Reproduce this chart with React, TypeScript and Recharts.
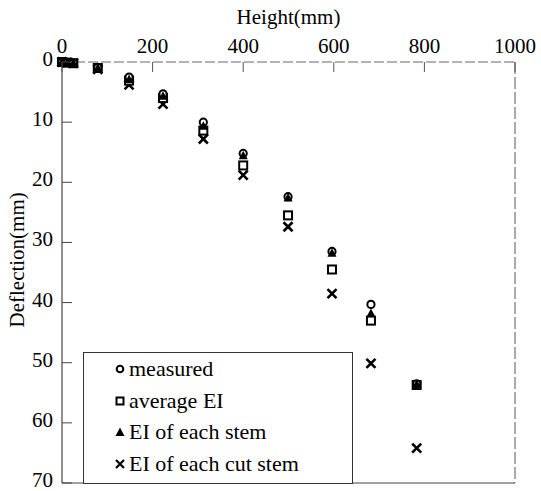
import React from 'react';
import { ScatterChart, Scatter, XAxis, YAxis, ReferenceLine } from 'recharts';

// heights along the stem (mm)
const heights = [0, 12, 25, 79, 148, 223, 312, 400, 499, 596, 682, 783];
// deflection (mm) per series
const measured = [0, 0.1, 0.2, 0.9, 2.5, 5.3, 10.0, 15.2, 22.4, 31.5, 40.3, 53.5];
const averageEI = [0, 0.1, 0.2, 1.0, 3.1, 6.0, 11.4, 17.2, 25.5, 34.5, 43.0, 53.7];
const eachStem = [0, 0.1, 0.2, 1.0, 2.9, 5.7, 10.7, 15.6, 22.6, 31.8, 41.8, 53.6];
const eachCutStem = [0, 0.1, 0.2, 1.2, 3.8, 7.0, 12.8, 18.8, 27.4, 38.5, 50.1, 64.2];

const xTicks = [0, 200, 400, 600, 800, 1000];
const yTicks = [0, 10, 20, 30, 40, 50, 60, 70];

const toPoints = (vals: number[]) => heights.map((h, i) => ({ h, d: vals[i] }));

const FONT = "'Liberation Serif', 'DejaVu Serif', serif";

const CircleShape = (props: any) => (
  <circle cx={props.cx} cy={props.cy} r={3.6} fill="#fff" stroke="#000" strokeWidth={2} />
);
const SquareShape = (props: any) => (
  <rect x={props.cx - 4} y={props.cy - 4} width={8} height={8} fill="#fff" stroke="#000" strokeWidth={2} />
);
const TriangleShape = (props: any) => {
  const { cx, cy } = props;
  return <polygon points={`${cx},${cy - 5} ${cx + 4.5},${cy + 3.5} ${cx - 4.5},${cy + 3.5}`} fill="#000" />;
};
const CrossShape = (props: any) => {
  const { cx, cy } = props;
  const s = 4.5;
  return (
    <g stroke="#000" strokeWidth={2.6}>
      <line x1={cx - s} y1={cy - s} x2={cx + s} y2={cy + s} />
      <line x1={cx - s} y1={cy + s} x2={cx + s} y2={cy - s} />
    </g>
  );
};

const XTick = (props: any) => {
  const { x, y, payload } = props;
  return (
    <g>
      <line x1={x} y1={y} x2={x} y2={y + 10} stroke="#555" strokeWidth={1} />
      <text x={x} y={y - 9} textAnchor="middle" style={{ fontFamily: FONT, fontSize: 21 }} fill="#000">
        {payload.value}
      </text>
    </g>
  );
};

const YTick = (props: any) => {
  const { x, y, payload } = props;
  return (
    <g>
      <line x1={x} y1={y} x2={x + 10} y2={y} stroke="#444" strokeWidth={1} />
      <text x={x - 9} y={y + 4} textAnchor="end" style={{ fontFamily: FONT, fontSize: 21 }} fill="#000">
        {payload.value}
      </text>
    </g>
  );
};

const legendRows = [
  { label: 'measured', shape: 'circle' },
  { label: 'average EI', shape: 'square' },
  { label: 'EI of each stem', shape: 'triangle' },
  { label: 'EI of each cut stem', shape: 'cross' },
];

const LegendIcon = ({ shape }: { shape: string }) => (
  <svg width={12} height={12} style={{ display: 'block' }}>
    {shape === 'circle' && <circle cx={6} cy={6} r={3.3} fill="#fff" stroke="#000" strokeWidth={2} />}
    {shape === 'square' && <rect x={2.5} y={2.5} width={7} height={7} fill="#fff" stroke="#000" strokeWidth={2} />}
    {shape === 'triangle' && <polygon points="6,1.5 10.5,10 1.5,10" fill="#000" />}
    {shape === 'cross' && (
      <g stroke="#000" strokeWidth={2.2}>
        <line x1={2} y1={2} x2={10} y2={10} />
        <line x1={2} y1={10} x2={10} y2={2} />
      </g>
    )}
  </svg>
);

export default function App() {
  return (
    <div style={{ position: 'absolute', left: 0, top: 0, width: 541, height: 491, background: '#fff', fontFamily: FONT }}>
      <ScatterChart width={541} height={491} margin={{ top: 0, right: 26, bottom: 8, left: 0 }} style={{ fontFamily: FONT }}>
        <XAxis
          type="number"
          dataKey="h"
          orientation="top"
          domain={[0, 1000]}
          ticks={xTicks}
          height={62}
          tickSize={0}
          tickMargin={0}
          tickLine={false}
          axisLine={{ stroke: '#666', strokeDasharray: '10 3' }}
          tick={<XTick />}
          interval={0}
          label={{
            value: 'Height(mm)',
            position: 'insideTop',
            offset: 9,
            style: { fontFamily: FONT, fontSize: 21 },
            fill: '#000',
          }}
        />
        <YAxis
          type="number"
          dataKey="d"
          domain={[0, 70]}
          reversed
          ticks={yTicks}
          width={62}
          tickSize={0}
          tickMargin={0}
          tickLine={false}
          axisLine={{ stroke: '#222' }}
          tick={<YTick />}
          interval={0}
          label={{
            value: 'Deflection(mm)',
            angle: -90,
            position: 'insideLeft',
            offset: 17,
            dy: 55,
            style: { fontFamily: FONT, fontSize: 21 },
            fill: '#000',
          }}
        />
        <ReferenceLine x={1000} stroke="#555" strokeDasharray="12 3" />
        <ReferenceLine y={70} stroke="#444" />
        <Scatter data={toPoints(eachCutStem)} shape={<CrossShape />} isAnimationActive={false} />
        <Scatter data={toPoints(averageEI)} shape={<SquareShape />} isAnimationActive={false} />
        <Scatter data={toPoints(measured)} shape={<CircleShape />} isAnimationActive={false} />
        <Scatter data={toPoints(eachStem)} shape={<TriangleShape />} isAnimationActive={false} />
      </ScatterChart>
      <div
        style={{
          position: 'absolute',
          left: 83,
          top: 352,
          width: 268,
          height: 130,
          border: '1px solid #333',
          background: '#fff',
          fontFamily: FONT,
          fontSize: 22,
          color: '#000',
        }}
      >
        {legendRows.map((row, i) => (
          <div
            key={row.label}
            style={{
              position: 'absolute',
              left: 30,
              top: 16 + i * 31.7 - 13,
              height: 26,
              display: 'flex',
              alignItems: 'center',
              whiteSpace: 'nowrap',
            }}
          >
            <LegendIcon shape={row.shape} />
            <span style={{ marginLeft: 3 }}>{row.label}</span>
          </div>
        ))}
      </div>
    </div>
  );
}
